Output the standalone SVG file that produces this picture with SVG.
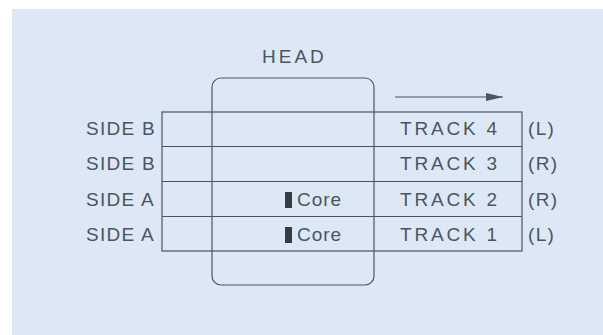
<svg xmlns="http://www.w3.org/2000/svg" width="603" height="335" viewBox="0 0 603 335">
<style>
  .bg { fill: #dde8f6; }
  .ln { fill: none; stroke: #4a5561; stroke-width: 1.2; }
  .t { font-family: "Liberation Sans", Arial, sans-serif; font-size: 19px; fill: #4a5561; letter-spacing: 1.3px; }
  .tr { letter-spacing: 2.8px; }
  .hd { letter-spacing: 3px; }
  .cr { letter-spacing: 1px; }
  .core { fill: #363c44; }
</style>
<defs>
  <marker id="ah" markerWidth="18" markerHeight="8" refX="17" refY="4" orient="auto" markerUnits="userSpaceOnUse">
    <path d="M0,0 L17,4 L0,8 Z" fill="#4a5561"/>
  </marker>
</defs>
<rect x="12" y="9" width="591" height="326" class="bg"/>

<g id="table">
  <rect x="162" y="112" width="360" height="139" class="ln"/>
  <line x1="162" y1="146.5" x2="522" y2="146.5" class="ln"/>
  <line x1="162" y1="181.5" x2="522" y2="181.5" class="ln"/>
  <line x1="162" y1="216.5" x2="522" y2="216.5" class="ln"/>
</g>

<g id="head">
  <rect x="212" y="78" width="162" height="207" rx="9" ry="9" class="ln"/>
  <text x="262" y="63" class="t hd">HEAD</text>
</g>

<g id="connectors">
  <line x1="395" y1="97" x2="503" y2="97" class="ln" marker-end="url(#ah)"/>
</g>

<g id="row4">
  <text x="86" y="135" class="t">SIDE B</text>
  <text x="400" y="135" class="t tr">TRACK 4</text>
  <text x="528" y="135" class="t">(L)</text>
</g>
<g id="row3">
  <text x="86" y="170" class="t">SIDE B</text>
  <text x="400" y="170" class="t tr">TRACK 3</text>
  <text x="528" y="170" class="t">(R)</text>
</g>
<g id="row2">
  <text x="86" y="206" class="t">SIDE A</text>
  <rect x="285" y="192" width="7" height="16" class="core"/>
  <text x="297" y="206" class="t cr">Core</text>
  <text x="400" y="206" class="t tr">TRACK 2</text>
  <text x="528" y="206" class="t">(R)</text>
</g>
<g id="row1">
  <text x="86" y="241" class="t">SIDE A</text>
  <rect x="285" y="227" width="7" height="16" class="core"/>
  <text x="297" y="241" class="t cr">Core</text>
  <text x="400" y="241" class="t tr">TRACK 1</text>
  <text x="528" y="241" class="t">(L)</text>
</g>
</svg>
